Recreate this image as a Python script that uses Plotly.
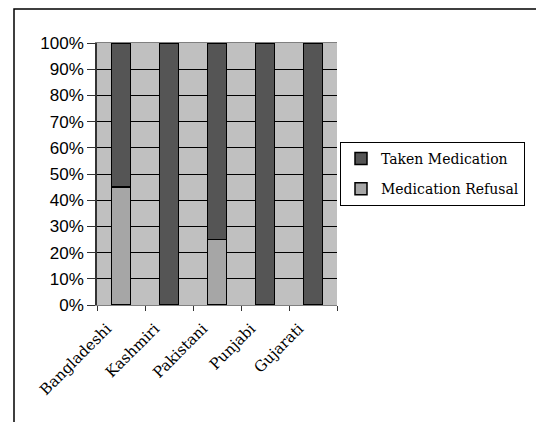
import plotly.graph_objects as go

categories = ["Bangladeshi", "Kashmiri", "Pakistani", "Punjabi", "Gujarati"]
refusal = [0.45, 0.0, 0.25, 0.0, 0.0]
taken = [0.55, 1.0, 0.75, 1.0, 1.0]
y_ticks = [i / 10 for i in range(11)]
y_tick_labels = [f"{i*10}%" for i in range(11)]

fig = go.Figure()
fig.add_trace(go.Bar(x=categories, y=refusal, name="Medication Refusal",
                     legendgroup="refusal", legendrank=2,
                     marker=dict(color="#a6a6a6", line=dict(color="black", width=1.5))))
fig.add_trace(go.Bar(x=categories, y=taken, name="Taken Medication",
                     legendgroup="taken", legendrank=1,
                     marker=dict(color="#555555", line=dict(color="black", width=1.5))))

W, H = 536, 422
L, R, T, B = 97, 199, 43, 117
pw, ph = W - L - R, H - T - B

fig.update_layout(
    width=W, height=H,
    barmode="stack", bargap=0.6,
    margin=dict(l=L, r=R, t=T, b=B, autoexpand=False),
    paper_bgcolor="white", plot_bgcolor="#c0c0c0",
    showlegend=True,
    legend=dict(x=(340 - L) / pw, y=(H - B - 142) / ph, xanchor="left", yanchor="top",
                traceorder="grouped",
                font=dict(family="DejaVu Serif", size=14, color="black"),
                bordercolor="black", borderwidth=1, bgcolor="white",
                itemwidth=30, tracegroupgap=9),
    shapes=[dict(type="rect", xref="paper", yref="paper",
                 x0=(14 - L) / pw, x1=2.0, y0=-2.0, y1=(H - B - 9) / ph,
                 line=dict(color="black", width=1.5), layer="below")],
)
fig.update_yaxes(range=[0, 1], tickvals=y_ticks, ticktext=y_tick_labels,
                 showgrid=True, gridcolor="black", gridwidth=1,
                 ticks="outside", ticklen=8, tickcolor="#333",
                 showline=True, linecolor="#333", linewidth=1.5, mirror=False,
                 zeroline=False,
                 tickfont=dict(family="Liberation Sans", size=17, color="black"))
fig.update_xaxes(tickangle=-45, ticks="outside", ticklen=5, tickson="boundaries",
                 tickcolor="#333", showline=True, linecolor="#808080", linewidth=1,
                 mirror=True, ticklabelstandoff=8, ticklabelshift=-14,
                 tickfont=dict(family="DejaVu Serif", size=15, color="black"))

fig.write_html("out.html", config={"displayModeBar": False},
               post_script="document.body.style.margin='0';")
